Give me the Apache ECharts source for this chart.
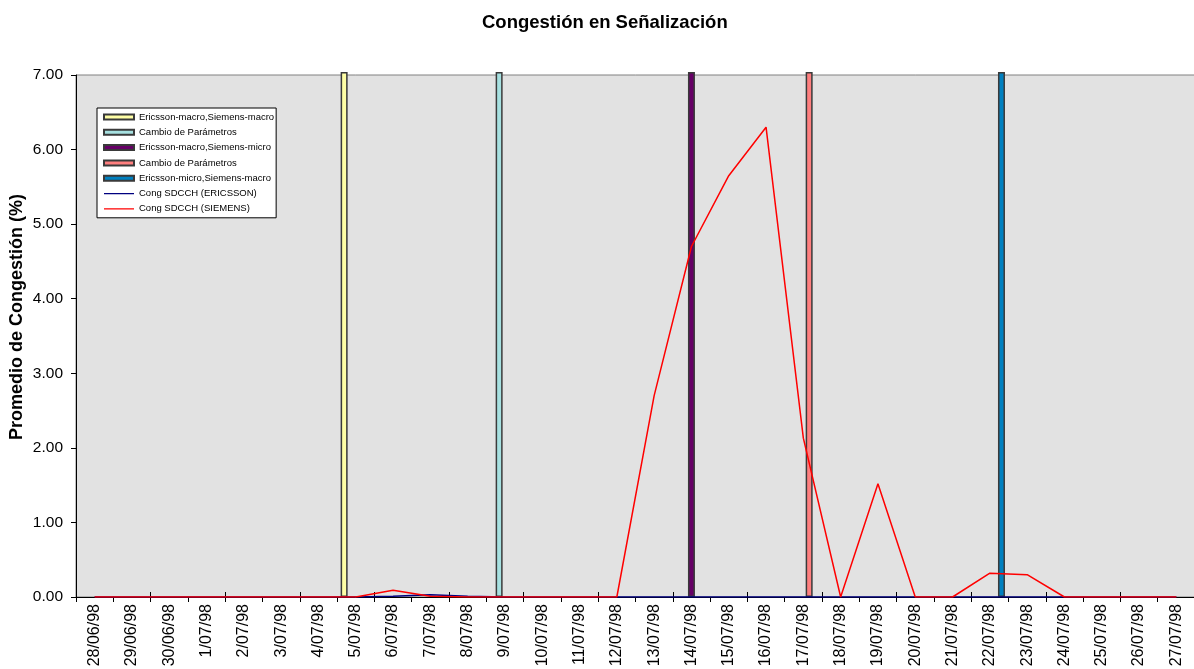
<!DOCTYPE html>
<html lang="es">
<head>
    <meta charset="UTF-8">
    <title>Congestión en Señalización</title>
    <script src="https://cdn.jsdelivr.net/npm/echarts@6/dist/echarts.min.js"></script>
    <style>
        html, body { margin: 0; padding: 0; background: #fff; }
        #chart { width: 1194px; height: 669px; }
    </style>
</head>
<body>
<div id="chart"></div>
<script>
    // fechas (eje X)
    var fechas = ['28/06/98','29/06/98','30/06/98','1/07/98','2/07/98','3/07/98','4/07/98','5/07/98',
        '6/07/98','7/07/98','8/07/98','9/07/98','10/07/98','11/07/98','12/07/98','13/07/98','14/07/98',
        '15/07/98','16/07/98','17/07/98','18/07/98','19/07/98','20/07/98','21/07/98','22/07/98',
        '23/07/98','24/07/98','25/07/98','26/07/98','27/07/98'];

    // Cong SDCCH (%)
    var congEricsson = [0,0,0,0,0,0,0,0,0.01,0.03,0.01,0,0,0,0,0,0,0,0,0,0,0,0,0,0,0,0,0,0,0];
    var congSiemens  = [0,0,0,0,0,0,0,0,0.09,0.01,0,0,0,0,0,2.70,4.70,5.65,6.30,2.13,0,1.52,0,0,0.32,0.30,0,0,0,0];

    // marcas de eventos (barras)
    var eventos = [
        {nombre: 'Ericsson-macro,Siemens-macro', fecha: '5/07/98', valor: 7.04, color: '#FFFFA6'},
        {nombre: 'Cambio de Parámetros', fecha: '9/07/98', valor: 7.04, color: '#A6E0E0'},
        {nombre: 'Ericsson-macro,Siemens-micro', fecha: '14/07/98', valor: 7.04, color: '#660066'},
        {nombre: 'Cambio de Parámetros ', fecha: '17/07/98', valor: 7.04, color: '#FF7F7F'},
        {nombre: 'Ericsson-micro,Siemens-macro', fecha: '22/07/98', valor: 7.04, color: '#0080C0'}
    ];

    var yTicks = [0, 1, 2, 3, 4, 5, 6, 7];

    // icono de linea para la leyenda (linea fina centrada)
    var iconoLinea = 'path://M0,0L30,0L30,0Z M0,2L30,2L30,3.2L0,3.2Z M0,5L30,5L30,5Z';

    var chart = echarts.init(document.getElementById('chart'));

    var series = [];
    var legendData = [];
    eventos.forEach(function (ev) {
        var d = fechas.map(function (f) { return f === ev.fecha ? ev.valor : '-'; });
        series.push({
            name: ev.nombre,
            type: 'bar',
            data: d,
            barWidth: 7,
            barGap: '-17%',
            clip: false,
            itemStyle: { color: ev.color, borderColor: '#3a3a3a', borderWidth: 1.5 },
            emphasis: { disabled: true }
        });
        legendData.push({ name: ev.nombre, icon: 'rect' });
    });
    series.push({
        name: 'Cong SDCCH (ERICSSON)',
        type: 'line',
        data: congEricsson,
        symbol: 'none',
        lineStyle: { color: '#000080', width: 1.5 },
        itemStyle: { color: '#000080' }
    });
    series.push({
        name: 'Cong SDCCH (SIEMENS)',
        type: 'line',
        data: congSiemens,
        symbol: 'none',
        lineStyle: { color: '#FF0000', width: 1.5 },
        itemStyle: { color: '#FF0000' }
    });
    legendData.push({ name: 'Cong SDCCH (ERICSSON)', icon: iconoLinea, itemStyle: { color: '#000080', borderWidth: 0 } });
    legendData.push({ name: 'Cong SDCCH (SIEMENS)', icon: iconoLinea, itemStyle: { color: '#FF0000', borderWidth: 0 } });

    var option = {
        animation: false,
        backgroundColor: '#fff',
        title: {
            text: 'Congestión en Señalización',
            left: 477,
            top: 8,
            textStyle: { fontFamily: 'Liberation Sans, Arial', fontSize: 18.5, fontWeight: 'bold', color: '#000' }
        },
        legend: {
            orient: 'vertical',
            left: 97,
            top: 108,
            data: legendData,
            itemWidth: 30,
            itemHeight: 5,
            itemGap: 5.3,
            padding: [4, 2, 4, 6],
            backgroundColor: '#fff',
            borderColor: '#000',
            borderWidth: 1,
            borderRadius: 0,
            selectedMode: false,
            textStyle: { fontFamily: 'Liberation Sans, Arial', fontSize: 9.5, lineHeight: 10, color: '#000' }
        },
        grid: {
            left: 76,
            top: 75,
            width: 1119,
            bottom: 72,
            outerBoundsMode: 'none',
            containLabel: false,
            show: true,
            backgroundColor: '#E2E2E2',
            borderColor: '#808080',
            borderWidth: 1
        },
        xAxis: [{
            type: 'category',
            data: fechas,
            boundaryGap: true,
            axisLine: { lineStyle: { color: '#000', width: 1 } },
            axisTick: { show: true, length: 5, lineStyle: { color: '#000' } },
            axisLabel: {
                rotate: 90,
                interval: 0,
                margin: 7,
                color: '#000',
                fontFamily: 'Liberation Sans, Arial',
                fontSize: 16
            },
            splitLine: { show: false }
        }, {
            type: 'category',
            data: fechas,
            position: 'bottom',
            boundaryGap: true,
            axisLine: { show: false },
            axisTick: { show: true, inside: true, length: 5, lineStyle: { color: '#000' } },
            axisLabel: { show: false },
            splitLine: { show: false }
        }],
        yAxis: {
            type: 'value',
            min: yTicks[0],
            max: yTicks[yTicks.length - 1],
            interval: 1,
            name: 'Promedio de Congestión (%)',
            nameLocation: 'middle',
            nameGap: 50,
            nameMoveOverlap: false,
            nameRotate: 90,
            nameTextStyle: {
                fontFamily: 'Liberation Sans, Arial', fontSize: 18, fontWeight: 'bold', color: '#000',
                padding: [0, 0, 0, 38]
            },
            axisLine: { show: true, lineStyle: { color: '#000' } },
            axisTick: { show: true, length: 5, lineStyle: { color: '#000' } },
            axisLabel: {
                margin: 13,
                color: '#000',
                fontFamily: 'Liberation Sans, Arial',
                fontSize: 15.5,
                formatter: function (v) { return v.toFixed(2); }
            },
            splitLine: { show: false }
        },
        series: series
    };

    chart.setOption(option);
</script>
</body>
</html>
